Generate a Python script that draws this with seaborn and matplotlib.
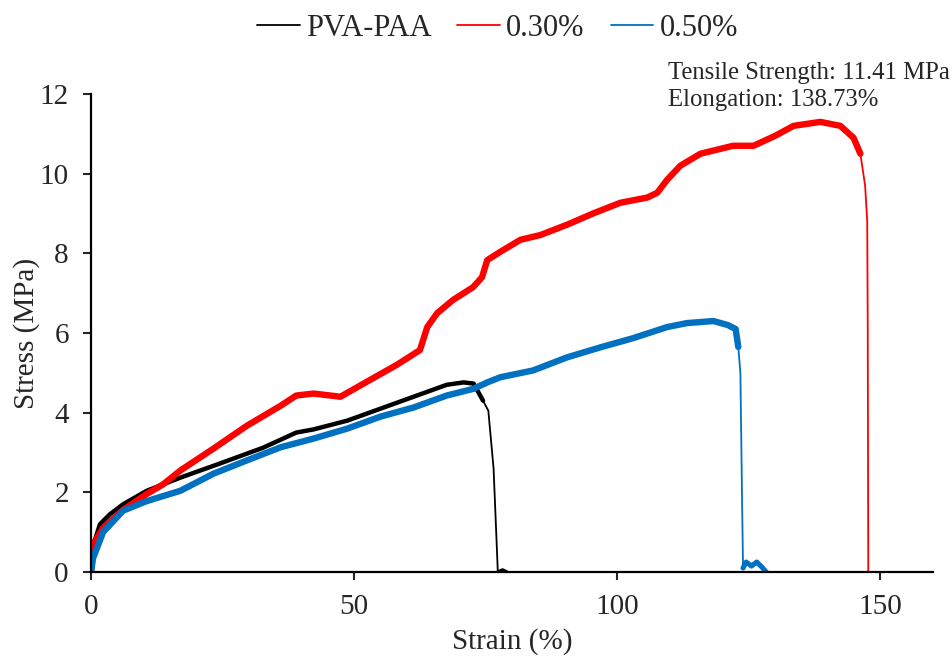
import numpy as np
import pandas as pd
import matplotlib
matplotlib.use("Agg")
import matplotlib.pyplot as plt
import seaborn as sns

# ---- data (strain %, stress MPa) ----
series_names = ["PVA-PAA", "0.30%", "0.50%"]

black_x = [0, 0.5, 1.7, 3.6, 6.1, 10.6, 17, 24, 32.7, 39, 42.3, 48.7, 55, 61.3, 67.6, 70.8, 72.7,
           74.5, 75.5, 76.5, 77.2, 77.3, 78.2, 79]
black_y = [0, 0.7, 1.2, 1.45, 1.7, 2.04, 2.37, 2.7, 3.12, 3.5, 3.58, 3.8, 4.1, 4.4, 4.7, 4.76, 4.73,
           4.3, 4.05, 2.6, 0.35, 0, 0.05, 0]

red_x = [0, 0.4, 2.3, 6, 10.6, 13.7, 17, 23.3, 29.6, 36, 39, 42.3, 47.4, 51.8, 58.1, 62.5, 63.9,
         65.8, 68.8, 72.6, 74.3, 75.3, 77.8, 81.6, 85.4, 90.5, 95.4, 100.6, 105.7, 107.6, 109.5,
         112, 115.8, 122, 125.9, 130, 133.5, 138.6, 142.4, 144.9, 146.2, 147.1, 147.5, 147.6, 147.7]
red_y = [0, 0.7, 1.1, 1.55, 1.96, 2.2, 2.55, 3.1, 3.67, 4.17, 4.43, 4.48, 4.4, 4.73, 5.2, 5.57, 6.15,
         6.5, 6.83, 7.15, 7.4, 7.83, 8.04, 8.34, 8.46, 8.72, 9.0, 9.27, 9.4, 9.52, 9.85,
         10.2, 10.5, 10.7, 10.7, 10.95, 11.2, 11.3, 11.2, 10.9, 10.5, 9.7, 8.8, 6.1, 0]

blue_x = [0, 0.4, 2.3, 6.1, 10.6, 17, 23.3, 29.6, 36, 42.3, 48.7, 55, 61.3, 67.6, 72.7, 75.3, 77.8,
          84, 90.5, 96.8, 103, 109.5, 113.3, 118.3, 121, 122.5, 123, 123.4, 123.7, 123.9, 124.5,
          125.5, 126.5, 127.5, 128.3]
blue_y = [0, 0.35, 1.0, 1.54, 1.78, 2.04, 2.47, 2.8, 3.13, 3.35, 3.6, 3.9, 4.13, 4.43, 4.6, 4.76, 4.89,
          5.06, 5.39, 5.64, 5.87, 6.15, 6.25, 6.3, 6.2, 6.1, 5.65, 5.0, 2.0, 0.1, 0.25,
          0.15, 0.25, 0.12, 0]

# failure (sharp drop) intervals, drawn as thin lines
black_fail = (74.5, 77.3)
red_fail = (146.2, 147.7)
blue_fail = (123.0, 123.9)

x_ticks = [0, 50, 100, 150]
y_ticks = [0, 2, 4, 6, 8, 10, 12]
annot_lines = ["Tensile Strength: 11.41 MPa", "Elongation: 138.73%"]

colors = {"PVA-PAA": "#000000", "0.30%": "#FF0000", "0.50%": "#0070C0"}
thick = {"PVA-PAA": 3.2, "0.30%": 4.6, "0.50%": 4.6}

sns.set_style("white")
plt.rcParams["font.family"] = ["Liberation Serif", "DejaVu Serif"]

frames = []
for name, xs, ys in zip(series_names, [black_x, red_x, blue_x], [black_y, red_y, blue_y]):
    frames.append(pd.DataFrame({"strain": xs, "stress": ys, "series": name}))
df = pd.concat(frames, ignore_index=True)

fig = plt.figure(figsize=(9.53, 6.57), dpi=100)
ax = fig.add_axes([91 / 953, 1 - 572 / 657, (933 - 91) / 953, (572 - 94) / 657])

style = dict(estimator=None, sort=False, ax=ax, solid_joinstyle="round", solid_capstyle="round")
fails = {"PVA-PAA": black_fail, "0.30%": red_fail, "0.50%": blue_fail}
for name in series_names:
    sub = df[df["series"] == name]
    sns.lineplot(data=sub, x="strain", y="stress", color=colors[name], lw=1.3,
                 label=name, **style)
    lo, hi = fails[name]
    pre = sub[sub["strain"] <= lo]
    post = sub[sub["strain"] >= hi]
    sns.lineplot(data=pre, x="strain", y="stress", color=colors[name], lw=thick[name],
                 legend=False, **style)
    if len(post) > 2:
        sns.lineplot(data=post, x="strain", y="stress", color=colors[name], lw=thick[name] * 0.8,
                     legend=False, **style)

handles, labels = ax.get_legend_handles_labels()
ax.get_legend().remove()
fig.legend(handles[:3], labels[:3], loc="center", bbox_to_anchor=(0.522, 1 - 28 / 657),
           ncol=3, frameon=False, fontsize=22, handlelength=1.4, handletextpad=0.2,
           columnspacing=0.85)

ax.set_xlim(0, 160)
ax.set_ylim(0, 12)
ax.set_xticks(x_ticks)
ax.set_yticks(y_ticks)
ax.tick_params(axis="both", labelsize=21, direction="out", length=6, width=1.5, pad=10,
               left=True, bottom=True)
for s in ["top", "right"]:
    ax.spines[s].set_visible(False)
for s in ["left", "bottom"]:
    ax.spines[s].set_linewidth(1.6)
    ax.spines[s].set_color("black")

ax.set_xlabel("Strain (%)", fontsize=21, labelpad=6)
ax.set_ylabel("Stress (MPa)", fontsize=21, labelpad=0)

ax.text(109.7, 12.37, annot_lines[0], fontsize=17.8, ha="left", va="baseline", clip_on=False)
ax.text(109.7, 11.69, annot_lines[1], fontsize=17.8, ha="left", va="baseline", clip_on=False)

fig.savefig("out.png", dpi=100)
